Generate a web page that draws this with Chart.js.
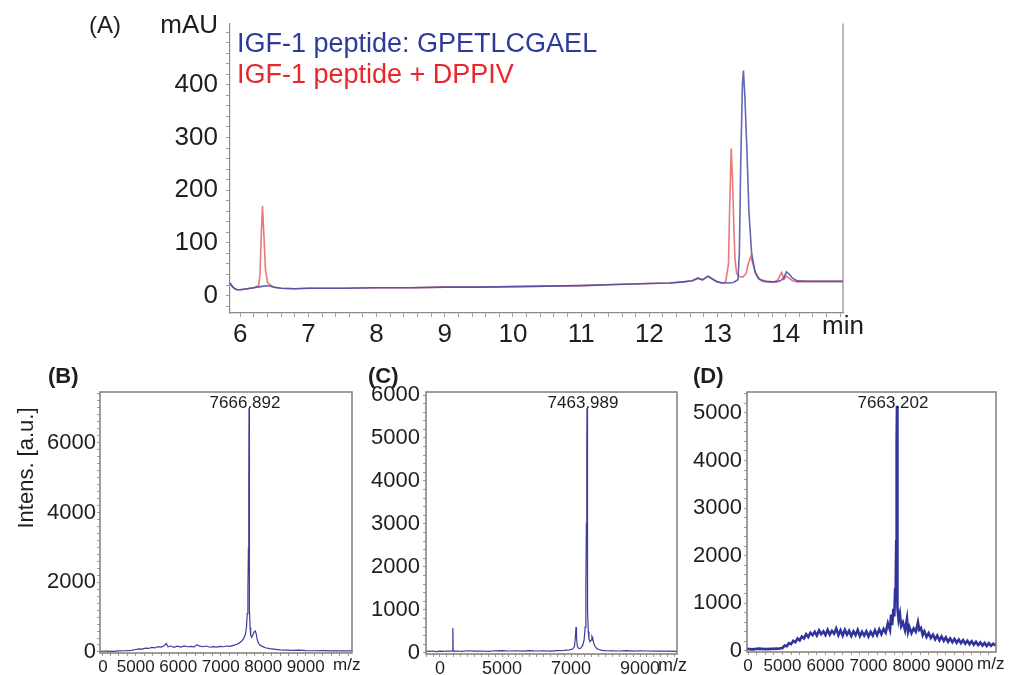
<!DOCTYPE html>
<html><head><meta charset="utf-8">
<script src="https://cdn.jsdelivr.net/npm/chart.js@4.4.1/dist/chart.umd.min.js"></script>
<style>
html,body{margin:0;padding:0;background:#fff;}
#wrap{position:relative;width:1020px;height:675px;overflow:hidden;background:#fff;}
canvas{position:absolute;left:0;top:0;}
</style></head><body>
<div id="wrap">
<canvas id="cA" width="1020" height="675"></canvas>
<canvas id="cB" width="1020" height="675"></canvas>
<canvas id="cC" width="1020" height="675"></canvas>
<canvas id="cD" width="1020" height="675"></canvas>
</div>
<script>
// ---------- Panel A: HPLC chromatogram ----------
const seriesNamesA = ["IGF-1 peptide: GPETLCGAEL", "IGF-1 peptide + DPPIV"];
const xTicksA = [6, 7, 8, 9, 10, 11, 12, 13, 14];
const yTicksA = [0, 100, 200, 300, 400];
const timeBlue = [5.85,5.88,5.92,5.96,6.0,6.05,6.1,6.2,6.3,6.4,6.5,6.6,6.8,7.0,7.5,8.0,8.5,9.0,9.5,10.0,10.5,11.0,11.5,12.0,12.3,12.5,12.63,12.71,12.78,12.86,12.93,13.0,13.07,13.15,13.23,13.30,13.32,13.34,13.365,13.38,13.40,13.43,13.46,13.50,13.55,13.60,13.67,13.77,13.86,13.92,13.97,14.01,14.05,14.10,14.17,14.3,14.5,14.84];
const mauBlue  = [24,18,13,11,11,12,13,15,17,19,16,14,13,14,14,15,15,16,16,17,18,19,21,23,24,26,28,33,30,37,31,26,24,24,25,30,80,250,400,427,380,280,160,80,45,32,27,26,26,28,33,45,41,33,28,27,27,27];
const timeRed = [5.85,5.88,5.92,5.96,6.0,6.05,6.1,6.2,6.27,6.29,6.31,6.327,6.345,6.37,6.40,6.45,6.5,6.6,6.8,7.0,7.5,8.0,8.5,9.0,9.5,10.0,10.5,11.0,11.5,12.0,12.3,12.5,12.63,12.71,12.78,12.86,12.93,13.0,13.07,13.12,13.16,13.175,13.20,13.22,13.235,13.255,13.28,13.32,13.37,13.42,13.45,13.485,13.52,13.56,13.62,13.72,13.82,13.88,13.94,13.975,14.01,14.05,14.10,14.17,14.3,14.5,14.84];
const mauRed  = [24,18,13,11,11,12,13,15,19,40,120,170,120,50,25,19,16,14,13,14,14,15,15,16,16,17,18,19,21,23,24,26,28,33,30,37,31,26,24,26,60,150,279,220,150,70,42,36,35,42,60,74,60,42,31,27,26,29,44,31,37,33,28,26,27,27,27];

// ---------- Panel B: MALDI spectrum ----------
const mzB  = [4160,4300,4450,4600,4750,4900,5000,5080,5150,5230,5300,5380,5450,5520,5600,5660,5720,5760,5820,5900,5980,6060,6140,6220,6300,6380,6440,6500,6580,6660,6740,6820,6900,6980,7060,7140,7220,7300,7380,7440,7500,7540,7580,7605,7625,7640,7652,7660,7666,7670,7675,7682,7692,7705,7730,7760,7790,7815,7835,7855,7880,7920,7980,8050,8150,8250,8400,8550,8700,8850,9000,9200,9400,9600,9800,10089];
const intB = [20,25,15,30,35,45,70,90,80,110,100,130,115,150,140,170,240,150,170,135,165,140,175,150,160,145,210,165,150,170,135,155,140,160,150,170,160,190,220,260,320,380,500,700,1100,1800,3000,4800,7000,4800,2500,1200,700,480,420,500,580,600,520,380,280,200,160,120,95,80,60,55,45,50,40,35,40,30,35,30];
const xTickValsB = [4230, 5000, 6000, 7000, 8000, 9000];
const xTickTextB = ["0", "5000", "6000", "7000", "8000", "9000"];
const yTicksB = [0, 2000, 4000, 6000];

// ---------- Panel C ----------
const mzC  = [2797,2900,3000,3100,3200,3300,3400,3500,3560,3575,3585,3600,3700,3850,4000,4200,4400,4600,4800,5000,5200,5400,5600,5800,6000,6200,6400,6600,6800,6950,7050,7100,7130,7145,7160,7185,7220,7260,7300,7340,7380,7410,7430,7445,7457,7464,7470,7478,7488,7500,7520,7550,7580,7605,7625,7650,7690,7740,7800,7900,8000,8200,8400,8600,8800,9000,9200,9400,9600,9800,10072];
const intC = [40,35,45,30,40,35,45,40,45,580,50,40,45,35,50,40,45,35,50,55,45,50,40,55,45,50,40,55,60,70,90,150,400,600,350,150,110,100,130,180,300,600,1500,3000,4800,5700,4000,2200,1000,500,320,260,300,390,360,250,160,110,80,60,55,50,45,55,40,50,45,40,45,40,35];
const xTickValsC = [3200, 5000, 7000, 9000];
const xTickTextC = ["0", "5000", "7000", "9000"];
const yTicksC = [0, 1000, 2000, 3000, 4000, 5000, 6000];

// ---------- Panel D ----------
const mzD  = [4175,4300,4450,4600,4750,4900,5000,5050,5100,5150,5200,5250,5300,5350,5400,5450,5500,5550,5600,5650,5700,5750,5800,5850,5900,5950,6000,6050,6100,6150,6200,6250,6300,6350,6400,6450,6500,6550,6600,6650,6700,6750,6800,6850,6900,6950,7000,7050,7100,7150,7200,7250,7300,7350,7400,7450,7500,7525,7550,7580,7600,7620,7635,7645,7652,7657,7663,7667,7672,7680,7700,7730,7760,7800,7850,7895,7920,7950,8000,8050,8100,8150,8180,8220,8260,8300,8350,8400,8450,8500,8550,8600,8650,8700,8750,8800,8850,8900,8950,9000,9050,9100,9150,9200,9250,9300,9350,9400,9450,9500,9550,9600,9650,9700,9750,9800,9850,9900,9965];
const intD = [40,30,45,35,40,45,60,110,95,160,140,210,180,260,220,300,260,350,290,380,330,400,320,430,350,410,330,440,340,420,360,470,330,430,320,440,340,420,310,410,330,440,310,400,320,410,300,400,320,430,330,450,350,460,380,580,440,760,540,880,720,1300,1500,2300,2400,4400,5150,2300,1400,900,650,780,520,600,430,680,400,500,370,470,400,600,440,480,330,410,290,370,270,340,240,320,220,300,210,280,190,260,180,250,170,235,160,225,150,210,140,200,130,190,120,175,110,165,100,160,105,150,110];
const xTickValsD = [4200, 5000, 6000, 7000, 8000, 9000];
const xTickTextD = ["0", "5000", "6000", "7000", "8000", "9000"];
const yTicksD = [0, 1000, 2000, 3000, 4000, 5000];

const peakLabels = ["7666.892", "7463.989", "7663.202"];
const panelLetters = ["(A)", "(B)", "(C)", "(D)"];

// ---------- helpers ----------
const FONT = "'Liberation Sans', Arial, Helvetica, sans-serif";
Chart.defaults.font.family = FONT;
Chart.defaults.color = '#222';
Chart.defaults.animation = false;

function pts(xs, ys) { return xs.map((x, i) => ({ x: x, y: ys[i] })); }
function labelFrom(vals, texts) {
  return function (v) {
    const i = vals.findIndex(t => Math.abs(t - v) < 1e-6);
    return i >= 0 ? texts[i] : '';
  };
}

// ---------- Chart A ----------
new Chart(document.getElementById('cA'), {
  type: 'line',
  data: {
    datasets: [
      { label: seriesNamesA[0], data: pts(timeBlue, mauBlue), borderColor: 'rgba(72,74,168,0.85)', borderWidth: 1.6, pointRadius: 0, tension: 0, textColor: '#2c3a9c' },
      { label: seriesNamesA[1], data: pts(timeRed, mauRed), borderColor: 'rgba(226,98,98,0.85)', borderWidth: 1.6, pointRadius: 0, tension: 0, textColor: '#e8262c' }
    ]
  },
  options: {
    responsive: false, animation: false, events: [],
    layout: { padding: { left: 0, top: 15, right: 177, bottom: 0 } },
    plugins: { legend: { display: false }, tooltip: { enabled: false } },
    scales: {
      x: {
        type: 'linear', min: 5.85, max: 14.84,
        afterFit: s => { s.height = 675 - 313; },
        ticks: { stepSize: 0.2, includeBounds: false, autoSkip: false, maxRotation: 0, minRotation: 0, padding: 2,
                 font: { size: 26 }, color: '#1e1e1e', callback: labelFrom(xTicksA, xTicksA.map(String)) },
        grid: { drawOnChartArea: false, tickLength: 4, color: '#a0a0a0' },
        border: { color: '#8a8a8a', width: 1.2 }
      },
      y: {
        type: 'linear', min: -33, max: 516,
        afterFit: s => { s.width = 230; },
        ticks: { stepSize: 20, includeBounds: false, autoSkip: false, padding: 8,
                 font: { size: 26 }, color: '#1e1e1e', callback: labelFrom(yTicksA, yTicksA.map(String)) },
        grid: { drawOnChartArea: false, tickLength: 4, color: '#a0a0a0' },
        border: { color: '#8a8a8a', width: 1.2 }
      }
    }
  },
  plugins: [{
    id: 'annA',
    afterDraw(chart) {
      const ctx = chart.ctx, a = chart.chartArea;
      ctx.save();
      ctx.strokeStyle = '#8a8a8a'; ctx.lineWidth = 1.2;
      ctx.beginPath(); ctx.moveTo(a.right, a.top); ctx.lineTo(a.right, a.bottom); ctx.stroke();
      ctx.fillStyle = '#1e1e1e';
      ctx.textBaseline = 'alphabetic';
      ctx.font = '24px ' + FONT; ctx.textAlign = 'left';
      ctx.fillText(panelLetters[0], 89, 33);
      ctx.font = '26px ' + FONT; ctx.textAlign = 'right';
      ctx.fillText('mAU', 218, 33);
      ctx.textAlign = 'left'; ctx.textBaseline = 'middle';
      ctx.fillText('min', a.right - 21, 327);
      ctx.font = '27px ' + FONT; ctx.textBaseline = 'alphabetic';
      chart.data.datasets.forEach((ds, i) => {
        ctx.fillStyle = ds.textColor;
        ctx.fillText(ds.label, a.left + 7, 52 + i * 31);
      });
      ctx.restore();
    }
  }]
});

// ---------- MS charts ----------
function msChart(id, o) {
  return new Chart(document.getElementById(id), {
    type: 'line',
    data: { datasets: [{ label: o.peak, data: pts(o.xs, o.ys), borderColor: o.color, borderWidth: o.lw, pointRadius: 0, tension: 0 }] },
    options: {
      responsive: false, animation: false, events: [],
      layout: { padding: { left: 0, top: o.box.t, right: 1020 - o.box.r, bottom: 0 } },
      plugins: { legend: { display: false }, tooltip: { enabled: false } },
      scales: {
        x: {
          type: 'linear', min: o.xmin, max: o.xmax,
          afterFit: s => { s.height = 675 - o.box.b; },
          afterBuildTicks: s => {
            const vals = o.tickVals.slice();
            for (let v = Math.ceil(o.xmin / 200) * 200; v <= o.xmax; v += 200) {
              if (!vals.some(t => Math.abs(t - v) < 60)) vals.push(v);
            }
            vals.sort((p, q) => p - q);
            s.ticks = vals.map(v => ({ value: v }));
          },
          ticks: { autoSkip: false, maxRotation: 0, minRotation: 0, padding: 1,
                   font: { size: o.xFont }, color: '#1e1e1e', callback: labelFrom(o.tickVals, o.tickText) },
          grid: { drawOnChartArea: false, tickLength: 3, color: '#a09a96' },
          border: { display: false }
        },
        y: {
          type: 'linear', min: o.ymin, max: o.ymax,
          afterFit: s => { s.width = o.box.l; },
          ticks: { stepSize: 200, includeBounds: false, autoSkip: false, padding: o.yPad,
                   font: { size: 22 }, color: '#1e1e1e', callback: labelFrom(o.yTicks, o.yTicks.map(String)) },
          grid: { drawOnChartArea: false, tickLength: 3, color: '#a09a96' },
          border: { display: false }
        }
      }
    },
    plugins: [{
      id: 'ann' + id,
      afterDraw(chart) {
        const ctx = chart.ctx, a = chart.chartArea;
        ctx.save();
        ctx.strokeStyle = '#857c77'; ctx.lineWidth = 1.5;
        ctx.strokeRect(a.left, a.top, a.right - a.left, a.bottom - a.top);
        ctx.fillStyle = '#1e1e1e';
        ctx.font = 'bold 22px ' + FONT; ctx.textAlign = 'left'; ctx.textBaseline = 'alphabetic';
        ctx.fillText(o.letter, o.letterX, 383);
        ctx.font = o.xFont + 'px ' + FONT; ctx.textBaseline = 'middle';
        ctx.fillText('m/z', a.right - 19, a.bottom + 12);
        const ds = chart.data.datasets[0].data;
        let best = ds[0];
        ds.forEach(p => { if (p.y > best.y) best = p; });
        const px = chart.scales.x.getPixelForValue(best.x);
        ctx.font = '17px ' + FONT; ctx.textAlign = 'center'; ctx.textBaseline = 'alphabetic';
        ctx.fillText(chart.data.datasets[0].label, px - 4, a.top + 16);
        if (o.ytitle) {
          ctx.translate(27, 468); ctx.rotate(-Math.PI / 2);
          ctx.font = '22px ' + FONT; ctx.textAlign = 'center'; ctx.textBaseline = 'middle';
          ctx.fillText(o.ytitle, 0, 0);
        }
        ctx.restore();
      }
    }]
  });
}

msChart('cB', { xs: mzB, ys: intB, peak: peakLabels[0], letter: panelLetters[1], letterX: 48,
  box: { l: 100, r: 352, t: 392, b: 653 }, xmin: 4160, xmax: 10089, ymin: -30, ymax: 7457,
  tickVals: xTickValsB, tickText: xTickTextB, yTicks: yTicksB, yPad: 1, xFont: 17,
  color: '#3b3f98', lw: 1.2, ytitle: 'Intens. [a.u.]' });
msChart('cC', { xs: mzC, ys: intC, peak: peakLabels[1], letter: panelLetters[2], letterX: 368,
  box: { l: 426, r: 677, t: 392, b: 654 }, xmin: 2797, xmax: 10072, ymin: -25, ymax: 6070,
  tickVals: xTickValsC, tickText: xTickTextC, yTicks: yTicksC, yPad: 3, xFont: 18,
  color: '#3b3f98', lw: 1.2 });
msChart('cD', { xs: mzD, ys: intD, peak: peakLabels[2], letter: panelLetters[3], letterX: 693,
  box: { l: 747, r: 996, t: 392, b: 652 }, xmin: 4175, xmax: 9965, ymin: -25, ymax: 5440,
  tickVals: xTickValsD, tickText: xTickTextD, yTicks: yTicksD, yPad: 2, xFont: 17,
  color: '#30349a', lw: 2.6 });
</script>
</body></html>
